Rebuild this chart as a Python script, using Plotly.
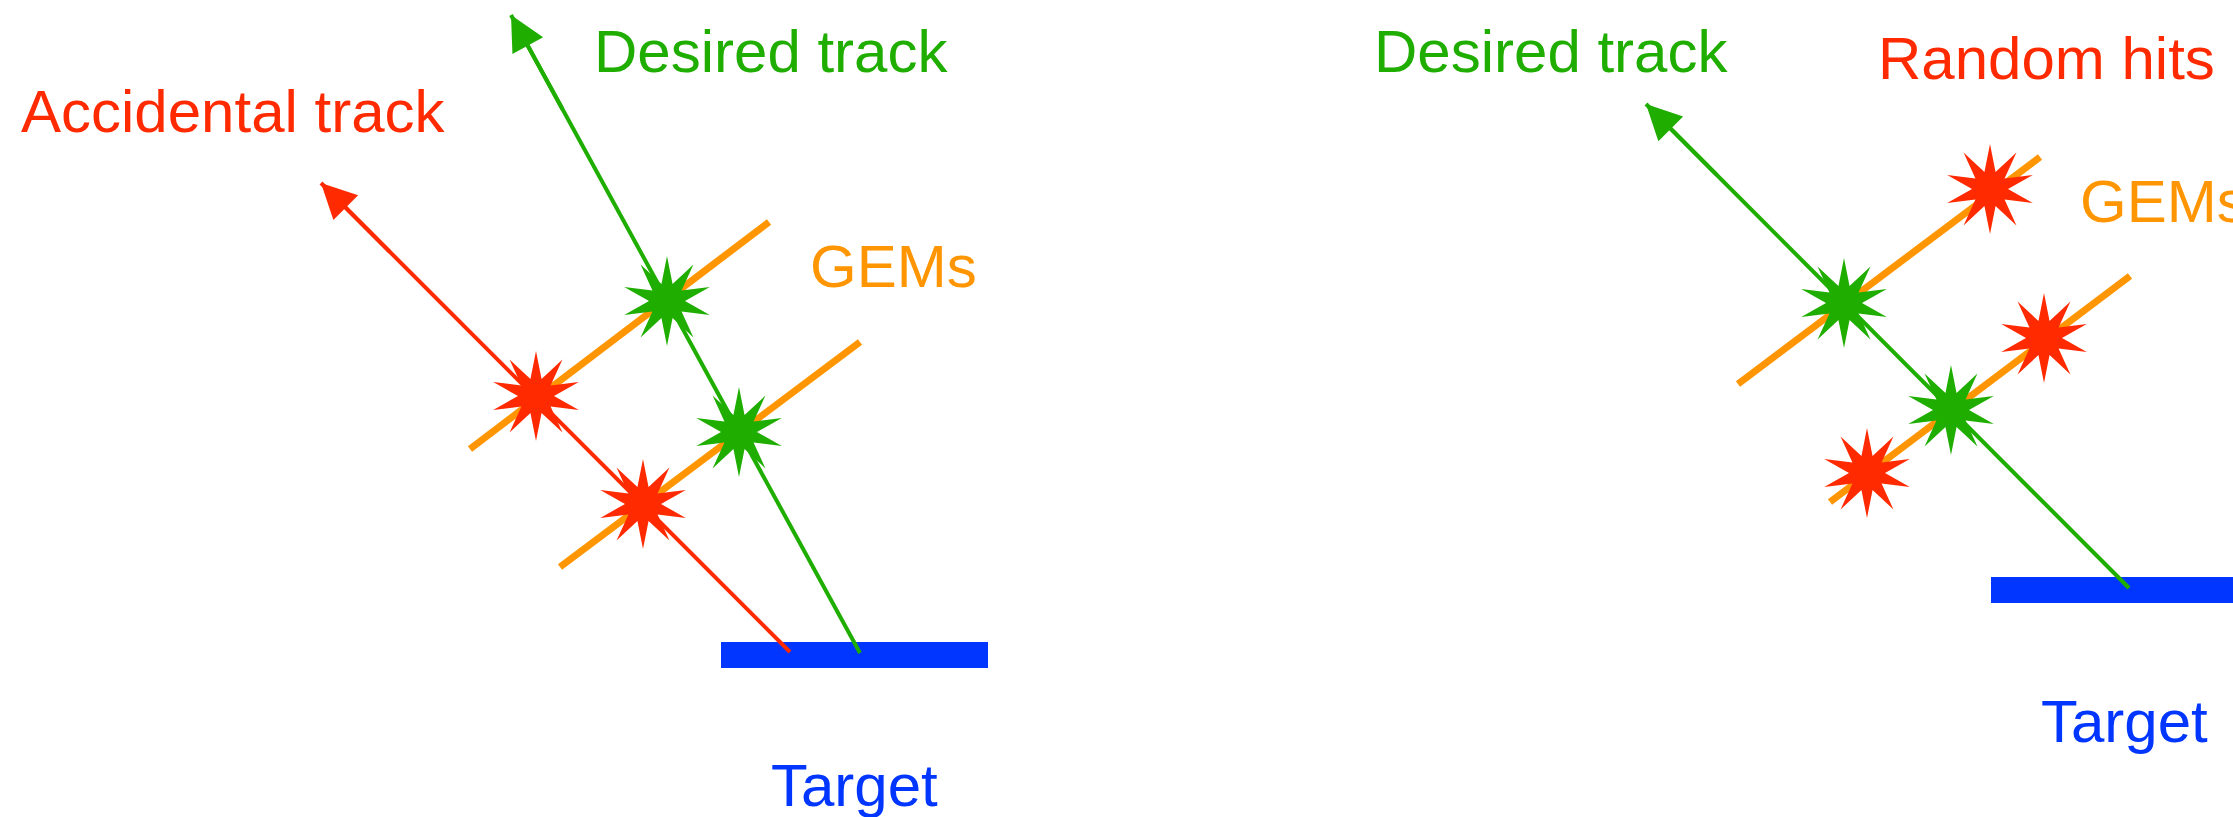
import numpy as np
import plotly.graph_objects as go

W, H = 2233, 817

# ---- data (pixel-space scene coordinates) ----
RED = "#ff2a00"
GREEN = "#1fae00"
ORANGE = "#ff9500"
BLUE = "#0036ff"

# target bars: x0, x1, y0, y1
target_x0 = [721, 1991]
target_x1 = [988, 2240]
target_y0 = [642, 577]
target_y1 = [668, 603]

# GEM planes: start -> end
gem_x0 = [470, 560, 1738, 1830]
gem_y0 = [449, 567, 384, 502]
gem_x1 = [769, 860, 2040, 2130]
gem_y1 = [222, 342, 157, 276]

# tracks: origin on target -> arrow tip
track_x0 = [790, 860, 2129]
track_y0 = [652, 653, 588]
track_x1 = [321, 511, 1646]
track_y1 = [183, 15, 104]
track_color = [RED, GREEN, GREEN]

# hits (stars)
hit_x = [536, 643, 667, 739, 1844, 1951, 1990, 2044, 1867]
hit_y = [396, 504, 301, 432, 303, 410, 189, 338, 473]
hit_color = [RED, RED, GREEN, GREEN, GREEN, GREEN, RED, RED, RED]

# labels
label_text = ["Accidental track", "Desired track", "GEMs", "Target",
              "Desired track", "Random hits", "GEMs", "Target"]
label_x = [233, 771, 808, 854, 1551, 2046, 2078, 2124]
label_y = [111, 51, 266, 785, 51, 58, 201, 721]
label_anchor = ["center", "center", "left", "center",
                "center", "center", "left", "center"]
label_color = [RED, GREEN, ORANGE, BLUE, GREEN, RED, ORANGE, BLUE]

STAR_R, STAR_r, STAR_N = 45, 18, 10


def star(cx, cy):
    xs, ys = [], []
    for k in range(2 * STAR_N + 1):
        a = -np.pi / 2 + k * np.pi / STAR_N
        rad = STAR_R if k % 2 == 0 else STAR_r
        xs.append(cx + rad * np.cos(a))
        ys.append(cy + rad * np.sin(a))
    return xs, ys


fig = go.Figure()

for x0, x1, y0, y1 in zip(target_x0, target_x1, target_y0, target_y1):
    fig.add_trace(go.Scatter(x=[x0, x1, x1, x0, x0], y=[y0, y0, y1, y1, y0],
                             mode="lines", fill="toself", fillcolor=BLUE,
                             line=dict(color=BLUE, width=0), hoverinfo="skip"))

for x0, y0, x1, y1 in zip(gem_x0, gem_y0, gem_x1, gem_y1):
    fig.add_trace(go.Scatter(x=[x0, x1], y=[y0, y1], mode="lines",
                             line=dict(color=ORANGE, width=7), hoverinfo="skip"))

for x0, y0, x1, y1, c in zip(track_x0, track_y0, track_x1, track_y1, track_color):
    fig.add_trace(go.Scatter(x=[x0, x1], y=[y0, y1], mode="lines",
                             line=dict(color=c, width=4), hoverinfo="skip"))
    fig.add_annotation(x=x1, y=y1, ax=x1 + (x0 - x1) * 0.15, ay=y1 + (y0 - y1) * 0.15,
                       xref="x", yref="y", axref="x", ayref="y", text="",
                       showarrow=True, arrowhead=2, arrowsize=1.75,
                       arrowwidth=4, arrowcolor=c, standoff=0)

for cx, cy, c in zip(hit_x, hit_y, hit_color):
    xs, ys = star(cx, cy)
    fig.add_trace(go.Scatter(x=xs, y=ys, mode="lines", fill="toself",
                             fillcolor=c, line=dict(color=c, width=0),
                             hoverinfo="skip"))

for t, x, y, a, c in zip(label_text, label_x, label_y, label_anchor, label_color):
    fig.add_annotation(x=x, y=y, xref="x", yref="y", text=t, showarrow=False,
                       xanchor=a, yanchor="middle",
                       font=dict(family="Liberation Sans", size=60, color=c))

fig.update_layout(
    width=W, height=H, margin=dict(l=0, r=0, t=0, b=0),
    paper_bgcolor="white", plot_bgcolor="white", showlegend=False,
    xaxis=dict(range=[0, W], visible=False, fixedrange=True),
    yaxis=dict(range=[H, 0], visible=False, fixedrange=True),
)

fig.write_html("out.html", config={"displayModeBar": False},
               post_script="document.body.style.margin='0px';document.body.style.overflow='hidden';")
